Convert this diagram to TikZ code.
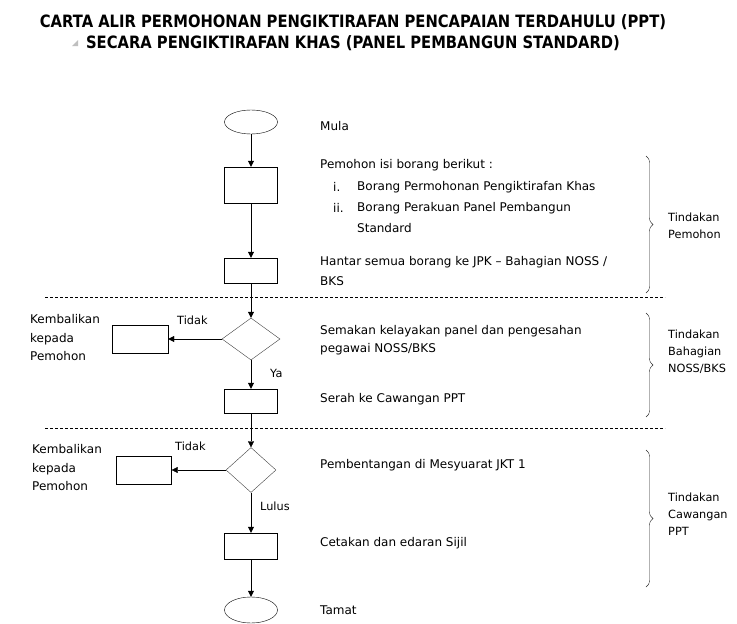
\documentclass[tikz,border=0pt]{standalone}
\usepackage{fontspec}
\setmainfont{DejaVu Sans}
\usetikzlibrary{arrows.meta,shapes.geometric,decorations.pathreplacing}
\tikzset{
  proc/.style={draw,thin,rectangle,minimum width=53pt,inner sep=0pt},
  term/.style={draw,thin,ellipse,minimum width=53pt,inner sep=0pt},
  dec/.style={draw=black!75,thin,diamond,inner sep=0pt},
  flow/.style={thin,-{Triangle[length=6pt,width=6pt]}},
  txt/.style={anchor=west,inner sep=0pt,font=\fontsize{12}{14}\selectfont},
  lbl/.style={anchor=west,inner sep=0pt,font=\fontsize{11.3}{13}\selectfont,align=left},
  sep/.style={dashed,thin,dash pattern=on 3pt off 2pt},
  brc/.style={thin,black!85,decorate,decoration={brace,amplitude=7pt}},
  ttl/.style={inner sep=0pt,font=\bfseries\fontsize{17}{19}\selectfont}
}
\begin{document}
\begin{tikzpicture}[x=1pt,y=-1pt]
\useasboundingbox[fill=white] (0,0) rectangle (737,624);
% title
\node[ttl] (t1) at (353,22) {\scalebox{0.868}[1]{CARTA ALIR PERMOHONAN PENGIKTIRAFAN PENCAPAIAN TERDAHULU (PPT)}};
\node[ttl] (t2) at (353,43) {\scalebox{0.868}[1]{SECARA PENGIKTIRAFAN KHAS (PANEL PEMBANGUN STANDARD)}};
\fill[black!25] (72,46) -- (78,46) -- (78,40) -- cycle;
% main column
\node[term,minimum height=24pt] (start) at (251,122) {};
\node[proc,minimum height=36pt] (b1) at (251,185) {};
\node[proc,minimum height=25pt] (b2) at (251,270.5) {};
\node[dec,minimum width=58pt,minimum height=42pt] (d1) at (251,339) {};
\node[proc,minimum width=56pt,minimum height=28pt] (r1) at (140,339) {};
\node[proc,minimum height=24pt] (b3) at (251,401) {};
\node[dec,minimum width=50pt,minimum height=45pt] (d2) at (251,470) {};
\node[proc,minimum width=55pt,minimum height=28pt] (r2) at (144,470) {};
\node[proc,minimum height=26pt] (b4) at (251,546) {};
\node[term,minimum height=26pt] (end) at (251,610) {};
\draw[flow] (start) -- (b1);
\draw[flow] (b1) -- (b2);
\draw[flow] (b2) -- (d1);
\draw[flow] (d1) -- (b3);
\draw[flow] (d1.west) -- (r1.east);
\draw[flow] (b3) -- (d2);
\draw[flow] (d2.west) -- (r2.east);
\draw[flow] (d2) -- (b4);
\draw[flow] (b4) -- (end);
% separators
\coordinate (s1a) at (45,297); \coordinate (s1b) at (665,297);
\coordinate (s2a) at (45,428); \coordinate (s2b) at (665,428);
\draw[sep] (s1a) -- (s1b);
\draw[sep] (s2a) -- (s2b);
% branch labels
\node[lbl] (tidak1) at (177,320) {Tidak};
\node[lbl] (ya) at (270,373) {Ya};
\node[lbl] (tidak2) at (175,446) {Tidak};
\node[lbl] (lulus) at (260,506) {Lulus};
\node[txt,align=left,font=\fontsize{12}{18.5}\selectfont] (k1) at (30,338) {Kembalikan\\kepada\\Pemohon};
\node[txt,align=left,font=\fontsize{12}{18.5}\selectfont] (k2) at (32,468) {Kembalikan\\kepada\\Pemohon};
% step texts
\node[txt] (m1) at (320,126) {Mula};
\node[txt] (m2) at (320,165) {Pemohon isi borang berikut :};
\node[txt] (m3a) at (333,187) {i.};
\node[txt] (m3) at (357,187) {Borang Permohonan Pengiktirafan Khas};
\node[txt] (m4a) at (333,208) {ii.};
\node[txt] (m4) at (357,208) {Borang Perakuan Panel Pembangun};
\node[txt] (m4b) at (357,228) {Standard};
\node[txt] (m5) at (320,262) {Hantar semua borang ke JPK – Bahagian NOSS /};
\node[txt] (m5b) at (320,281) {BKS};
\node[txt] (m6) at (320,331) {Semakan kelayakan panel dan pengesahan};
\node[txt] (m6b) at (320,349) {pegawai NOSS/BKS};
\node[txt] (m7) at (320,399) {Serah ke Cawangan PPT};
\node[txt] (m8) at (320,465) {Pembentangan di Mesyuarat JKT 1};
\node[txt] (m9) at (320,543) {Cetakan dan edaran Sijil};
\node[txt] (m10) at (320,610) {Tamat};
% braces
\coordinate (br1a) at (646,156); \coordinate (br1b) at (646,293);
\coordinate (br2a) at (646,313); \coordinate (br2b) at (646,417);
\coordinate (br3a) at (646,450); \coordinate (br3b) at (646,587);
\draw[brc] (br1a) -- (br1b);
\draw[brc] (br2a) -- (br2b);
\draw[brc] (br3a) -- (br3b);
\node[lbl,font=\fontsize{11.3}{17}\selectfont] (g1) at (668,226) {Tindakan\\Pemohon};
\node[lbl,font=\fontsize{11.3}{17}\selectfont] (g2) at (668,352) {Tindakan\\Bahagian\\NOSS/BKS};
\node[lbl,font=\fontsize{11.3}{17}\selectfont] (g3) at (668,514) {Tindakan\\Cawangan\\PPT};
\end{tikzpicture}
\end{document}
